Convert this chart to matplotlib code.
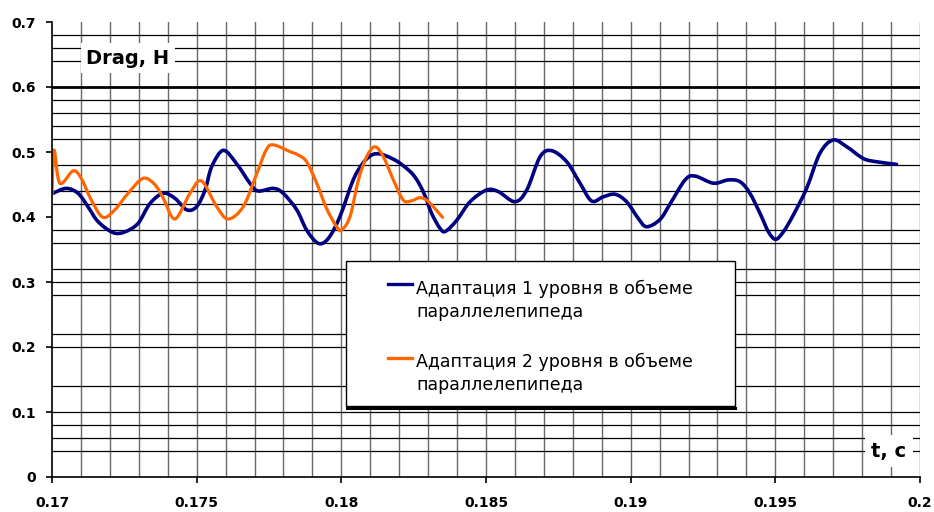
import matplotlib
matplotlib.use("Agg")
import matplotlib.pyplot as plt
from matplotlib.patches import Rectangle, PathPatch
from matplotlib.path import Path
from matplotlib.lines import Line2D
import numpy as np

# Drag history, level-1 adaptation in the parallelepiped volume
t_level1 = [0.17003, 0.17049, 0.17090, 0.17124, 0.17159, 0.17211, 0.17251, 0.17297,
            0.17339, 0.17385, 0.17425, 0.17466, 0.17500, 0.17529, 0.17552, 0.17592,
            0.17638, 0.17684, 0.17712, 0.17765, 0.17799, 0.17846, 0.17880, 0.17920,
            0.17955, 0.17995, 0.18041, 0.18075, 0.18105, 0.18134, 0.18170, 0.18203,
            0.18249, 0.18283, 0.18312, 0.18341, 0.18360, 0.18399, 0.18445, 0.18502,
            0.18543, 0.18600, 0.18641, 0.18687, 0.18727, 0.18779, 0.18825, 0.18865,
            0.18905, 0.18946, 0.18986, 0.19026, 0.19055, 0.19101, 0.19136, 0.19188,
            0.19222, 0.19286, 0.19337, 0.19378, 0.19412, 0.19447, 0.19476, 0.19501,
            0.19528, 0.19562, 0.19608, 0.19654, 0.19700, 0.19747, 0.19804, 0.19850,
            0.19919]
drag_level1 = [0.4365, 0.444, 0.4365, 0.416, 0.393, 0.376, 0.377, 0.390,
               0.421, 0.4365, 0.4287, 0.411, 0.416, 0.4415, 0.4774, 0.5025,
               0.482, 0.452, 0.440, 0.444, 0.4365, 0.411, 0.380, 0.3595,
               0.367, 0.4005, 0.457, 0.483, 0.4954, 0.497, 0.491, 0.4826,
               0.4646, 0.439, 0.4057, 0.3826, 0.378, 0.395, 0.4235, 0.4415,
               0.439, 0.4235, 0.4415, 0.4928, 0.502, 0.485, 0.452, 0.4246,
               0.431, 0.435, 0.4235, 0.398, 0.385, 0.396, 0.420, 0.457,
               0.463, 0.452, 0.457, 0.4543, 0.4365, 0.4057, 0.3774, 0.3657,
               0.3774, 0.403, 0.444, 0.498, 0.5185, 0.508, 0.490, 0.485,
               0.481]

# Drag history, level-2 adaptation in the parallelepiped volume
t_level2 = [0.17000, 0.17007, 0.17027, 0.17073, 0.17101, 0.17136, 0.17176, 0.17217,
            0.17263, 0.17315, 0.17355, 0.17385, 0.17425, 0.17477, 0.17517, 0.17569,
            0.17609, 0.17661, 0.17708, 0.17740, 0.17765, 0.17823, 0.17851, 0.17880,
            0.17915, 0.17949, 0.17984, 0.18001, 0.18030, 0.18059, 0.18088, 0.18116,
            0.18145, 0.18180, 0.18214, 0.18243, 0.18272, 0.18301, 0.18350]
drag_level2 = [0.435, 0.503, 0.452, 0.471, 0.4595, 0.426, 0.3995, 0.411,
               0.4365, 0.4595, 0.450, 0.4287, 0.397, 0.4365, 0.4554, 0.416,
               0.397, 0.416, 0.467, 0.503, 0.511, 0.5005, 0.4954, 0.485,
               0.452, 0.413, 0.385, 0.380, 0.4005, 0.457, 0.493, 0.508,
               0.493, 0.457, 0.426, 0.425, 0.4297, 0.4235, 0.3995]

series_labels = ["Адаптация 1 уровня в объеме\nпараллелепипеда",
                 "Адаптация 2 уровня в объеме\nпараллелепипеда"]
series_colors = ["#000080", "#FF6600"]

x_ticks = [0.17, 0.175, 0.18, 0.185, 0.19, 0.195, 0.2]
x_tick_labels = ["0.17", "0.175", "0.18", "0.185", "0.19", "0.195", "0.2"]
y_ticks = [0, 0.1, 0.2, 0.3, 0.4, 0.5, 0.6, 0.7]
y_tick_labels = ["0", "0.1", "0.2", "0.3", "0.4", "0.5", "0.6", "0.7"]
y_grid_levels = [0.04, 0.06, 0.08, 0.10, 0.14, 0.20, 0.22, 0.28, 0.30, 0.32,
                 0.36, 0.38, 0.42, 0.44, 0.48, 0.52, 0.54, 0.56, 0.58,
                 0.64, 0.66, 0.68]
y_major_level = 0.6

W, H = 934, 512
fig = plt.figure(figsize=(W / 100, H / 100), dpi=100)
fig.patch.set_facecolor("white")


def fx(px):
    return px / W


def fy(py):
    return 1 - py / H


def smooth_line(ax, xs, ys, **kw):
    """Draw a smoothed (Catmull-Rom style Bezier) line through the points."""
    x = np.asarray(xs, float)
    y = np.asarray(ys, float)
    # work in axis-fraction units scaled to the plot aspect
    x0, x1 = ax.get_xlim()
    y0, y1 = ax.get_ylim()
    aspect = 455 / 868
    u = (x - x0) / (x1 - x0)
    v = (y - y0) / (y1 - y0) * aspect
    P = np.column_stack([u, v])
    n = len(P)
    verts = [P[0]]
    codes = [Path.MOVETO]
    for i in range(n - 1):
        p_prev = P[i - 1] if i > 0 else P[i]
        p_next2 = P[i + 2] if i + 2 < n else P[i + 1]
        c1 = P[i] + (P[i + 1] - p_prev) / 6.0
        c2 = P[i + 1] - (p_next2 - P[i]) / 6.0
        verts += [c1, c2, P[i + 1]]
        codes += [Path.CURVE4] * 3
    verts = np.array(verts)
    verts[:, 0] = x0 + verts[:, 0] * (x1 - x0)
    verts[:, 1] = y0 + verts[:, 1] / aspect * (y1 - y0)
    patch = PathPatch(Path(verts, codes), facecolor="none", transform=ax.transData,
                      joinstyle="round", capstyle="round", **kw)
    ax.add_patch(patch)
    return patch


ax = fig.add_axes([fx(52), fy(477), fx(920) - fx(52), fy(22) - fy(477)])
ax.set_xlim(0.17, 0.2)
ax.set_ylim(0, 0.7)

# vertical grid every 0.001 s
for xv in np.arange(0.171, 0.2005, 0.001):
    ax.axvline(xv, color="#6a6a6a", lw=1.0, zorder=1)
# horizontal grid
for yv in y_grid_levels:
    ax.axhline(yv, color="black", lw=0.9, zorder=1.2)
ax.axhline(y_major_level, color="black", lw=2.0, zorder=1.3)

smooth_line(ax, t_level1, drag_level1, edgecolor=series_colors[0], lw=2.6, zorder=3)
smooth_line(ax, t_level2, drag_level2, edgecolor=series_colors[1], lw=2.3, zorder=3.1)

for s in ["top", "right"]:
    ax.spines[s].set_visible(False)
for s in ["left", "bottom"]:
    ax.spines[s].set_color("black")
    ax.spines[s].set_linewidth(1.2)
    ax.spines[s].set_zorder(4)

ax.set_xticks(x_ticks)
ax.set_xticklabels(x_tick_labels, fontweight="bold", fontsize=10)
ax.set_yticks(y_ticks)
ax.set_yticklabels(y_tick_labels, fontweight="bold", fontsize=10)
ax.tick_params(axis="x", direction="out", length=4.5, width=1.2, pad=9)
ax.tick_params(axis="y", direction="out", length=4.5, width=1.2, pad=7)

# axis captions on white boxes
fig.text(fx(128), fy(58), "Drag, H", fontsize=14, fontweight="bold",
         ha="center", va="center", zorder=6,
         bbox=dict(boxstyle="square,pad=0.3", facecolor="white", edgecolor="none"))
fig.text(fx(889), fy(451), "t, c", fontsize=14, fontweight="bold",
         ha="center", va="center", zorder=6,
         bbox=dict(boxstyle="square,pad=0.35", facecolor="white", edgecolor="none"))

# legend box with a bottom shadow
lx0, lx1, ly0, ly1 = 346, 735, 261, 406
fig.add_artist(Rectangle((fx(lx0), fy(ly1)), fx(lx1) - fx(lx0), fy(ly0) - fy(ly1),
                         transform=fig.transFigure, facecolor="white",
                         edgecolor="black", lw=1.0, zorder=5))
fig.add_artist(Line2D([fx(lx0 + 1), fx(lx1)], [fy(ly1 + 1.5), fy(ly1 + 1.5)],
                      transform=fig.transFigure, color="black", lw=2.2, zorder=5.1))
entry_handle_y = [284, 358]
entry_text_y = [300, 373.5]
for label, color, hy, ty in zip(series_labels, series_colors, entry_handle_y, entry_text_y):
    fig.add_artist(Line2D([fx(388), fx(412)], [fy(hy), fy(hy)],
                          transform=fig.transFigure, color=color, lw=2.4, zorder=5.2))
    fig.text(fx(416), fy(ty), label, fontsize=12.5, ha="left", va="center",
             linespacing=1.35, zorder=5.2)

fig.savefig("out.png", dpi=100)
